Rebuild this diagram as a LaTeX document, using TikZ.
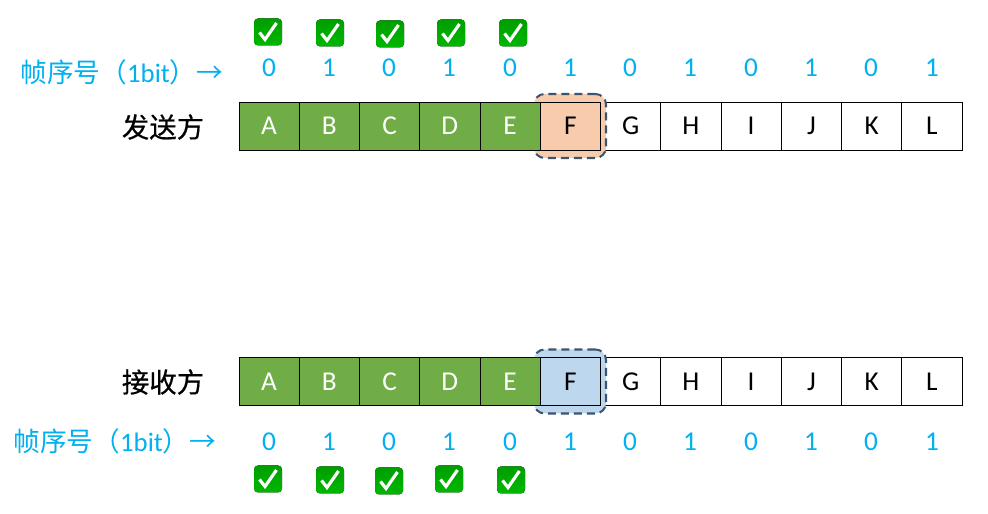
\documentclass[tikz,border=0pt]{standalone}
\usepackage{fontspec}
\setmainfont{Carlito}
\newfontfamily\cjk{Noto Sans CJK SC}
\newfontfamily\cjkside[FakeBold=0.5]{Noto Sans CJK SC}
\usepackage{xcolor}
\usetikzlibrary{arrows.meta, positioning, fit, calc}
\definecolor{kblue}{HTML}{00B0F0}
\definecolor{kgreen}{HTML}{70AD47}
\definecolor{korange}{HTML}{F8CBAD}
\definecolor{ksky}{HTML}{BDD7EE}
\definecolor{kdash}{HTML}{3B5470}
\tikzset{
  cell/.style={draw=black, line width=0.5pt, minimum width=1.205cm, minimum height=0.96cm, inner sep=0pt, font=\fontsize{15.5}{17}\selectfont},
  donecell/.style={cell, fill=kgreen, text=white},
  seqbit/.style={text=kblue, inner sep=0pt, font=\fontsize{15.5}{17}\selectfont},
  seqlabel/.style={text=kblue, inner sep=0pt, anchor=west, font=\fontsize{15.2}{17}\selectfont},
  side/.style={text=black, inner sep=0pt, font=\cjkside\fontsize{15.6}{17}\selectfont},
  window/.style={draw=kdash, line width=1.15pt, dash pattern=on 4.6pt off 2.8pt, rounded corners=6pt, minimum width=1.44cm, minimum height=1.28cm, inner sep=0pt},
  pics/okmark/.style={code={
    \fill[top color=green!62!black, bottom color=green!72!black, rounded corners=2.2pt] (-0.28,-0.27) rectangle (0.28,0.27);
    \draw[white, line width=1.8pt] (-0.17,-0.01) -- (-0.06,-0.15) -- (0.17,0.18);
  }}
}
\begin{document}
\begin{tikzpicture}[x=1cm, y=1cm]
\useasboundingbox (0,0) rectangle (19.76,10.28);
% white cells go under the window
\foreach \name [count=\i from 6] in {G,H,I,J,K,L} {
  \node[cell, fill=white] (s\name) at (4.78+1.205*\i+0.6025,7.76) {\name};
  \node[cell, fill=white] (r\name) at (4.78+1.205*\i+0.6025,2.65) {\name};
}
\node[window, fill=korange] (wsend) at (11.40,7.76) {};
\node[window, fill=ksky] (wrecv) at (11.40,2.65) {};
\foreach \name [count=\i from 0] in {A,B,C,D,E} {
  \node[donecell] (s\name) at (4.78+1.205*\i+0.6025,7.76) {\name};
  \node[donecell] (r\name) at (4.78+1.205*\i+0.6025,2.65) {\name};
}
\node[cell] (sF) at (4.78+1.205*5+0.6025,7.76) {F};
\node[cell] (rF) at (4.78+1.205*5+0.6025,2.65) {F};
% sequence numbers
\foreach \xpos/\bit [count=\i] in {5.38/0,6.58/1,7.78/0,8.98/1,10.20/0,11.40/1,12.60/0,13.80/1,15.02/0,16.22/1,17.42/0,18.64/1} {
  \node[seqbit] (sbit\i) at (\xpos,8.92) {\bit};
  \node[seqbit] (rbit\i) at (\xpos,1.44) {\bit};
}
\node[seqlabel] (sseq) at (0.40,8.84) {{\cjk 帧序号（}1bit{\cjk ）→}};
\node[seqlabel] (rseq) at (0.26,1.46) {{\cjk 帧序号（}1bit{\cjk ）→}};
\node[side] (sender) at (3.26,7.74) {发送方};
\node[side] (receiver) at (3.26,2.64) {接收方};
% received marks
\foreach \xpos/\ypos in {5.36/9.64,6.60/9.62,7.80/9.60,9.02/9.62,10.26/9.62} {
  \pic at (\xpos,\ypos) {okmark};
}
\foreach \xpos/\ypos in {5.36/0.70,6.60/0.68,7.78/0.66,8.98/0.70,10.22/0.68} {
  \pic at (\xpos,\ypos) {okmark};
}
\end{tikzpicture}
\end{document}
